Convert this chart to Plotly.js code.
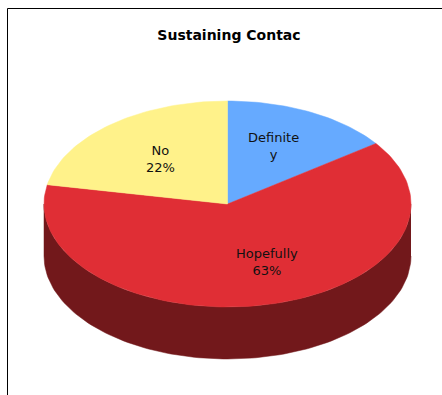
<!DOCTYPE html>
<html><head><meta charset="utf-8">
<script src="https://cdn.plot.ly/plotly-3.0.1.min.js"></script>
<style>html,body{margin:0;padding:0;background:#fff;}#chart{width:442px;height:395px;}</style>
</head><body><div id="chart"></div>
<script>
// ---- data ----
const categories = ["Definitely", "Hopefully", "No"];
const values = [15, 63, 22];
const labelTexts = ["Definite<br>y", "Hopefully<br>63%", "No<br>22%"];
const titleText = "Sustaining Contac";

// ---- styles / geometry ----
const topColors = ["#66AAFF", "#E02E35", "#FFF28A"];
const sideColors = ["#3A6699", "#72181B", "#99914F"];
const cx = 227.5, cy = 204, rx = 183.5, ry = 103, depth = 52;
const labelR = [0.63, 0.58, 0.57];
const labelDx = [-6, 16, 0];
const FONT = "'Comic Sans MS', 'DejaVu Sans', sans-serif";

function pt(deg, dy) {
  const a = deg * Math.PI / 180;
  return [cx + rx * Math.sin(a), cy - ry * Math.cos(a) + (dy || 0)];
}
const total = values.reduce((a, b) => a + b, 0);
const traces = [];
const annotations = [];
let start = 0;
const slices = values.map(v => { const s = start; start += v / total * 360; return [s, start]; });

// sides (front half: 90..270 degrees clockwise from top)
slices.forEach(([s, e], i) => {
  const a0 = Math.max(s, 90), a1 = Math.min(e, 270);
  if (a1 <= a0) return;
  const xs = [], ys = [];
  for (let d = a0; d <= a1 + 1e-9; d += (a1 - a0) / 120) { const p = pt(d, 0); xs.push(p[0]); ys.push(p[1]); }
  for (let d = a1; d >= a0 - 1e-9; d -= (a1 - a0) / 120) { const p = pt(d, depth); xs.push(p[0]); ys.push(p[1]); }
  traces.push({type: "scatter", x: xs, y: ys, fill: "toself", fillcolor: sideColors[i], mode: "lines",
    line: {width: 0.5, color: sideColors[i]}, hoverinfo: "skip", showlegend: false});
});
// top surfaces
slices.forEach(([s, e], i) => {
  const xs = [cx], ys = [cy];
  const n = Math.max(20, Math.round((e - s) / 1.5));
  for (let k = 0; k <= n; k++) { const p = pt(s + (e - s) * k / n, 0); xs.push(p[0]); ys.push(p[1]); }
  xs.push(cx); ys.push(cy);
  traces.push({type: "scatter", x: xs, y: ys, fill: "toself", fillcolor: topColors[i], mode: "lines",
    line: {width: 0.5, color: topColors[i]}, name: categories[i], hoverinfo: "name", showlegend: false});
  const mid = (s + e) / 2, a = mid * Math.PI / 180;
  annotations.push({x: cx + rx * Math.sin(a) * labelR[i] + labelDx[i], y: cy - ry * Math.cos(a) * labelR[i],
    xref: "x", yref: "y", text: labelTexts[i], showarrow: false,
    font: {family: FONT, size: 13, color: "#111"}, align: "center"});
});

const layout = {
  width: 442, height: 395,
  margin: {l: 0, r: 0, t: 0, b: 0},
  paper_bgcolor: "#fff", plot_bgcolor: "#fff",
  xaxis: {range: [0, 442], visible: false, fixedrange: true},
  yaxis: {range: [395, 0], visible: false, fixedrange: true},
  title: {text: "<b>" + titleText + "</b>", x: 0.518, xanchor: "center", y: 0.912, yanchor: "middle",
    font: {family: FONT, size: 14, color: "#000"}},
  annotations: annotations,
  shapes: [{type: "rect", xref: "x", yref: "y", x0: 7.5, y0: 8.5, x1: 460, y1: 420,
    line: {color: "#000", width: 1}, fillcolor: "rgba(0,0,0,0)", layer: "below"}],
  showlegend: false
};
Plotly.newPlot("chart", traces, layout, {displayModeBar: false, staticPlot: true});
</script></body></html>
